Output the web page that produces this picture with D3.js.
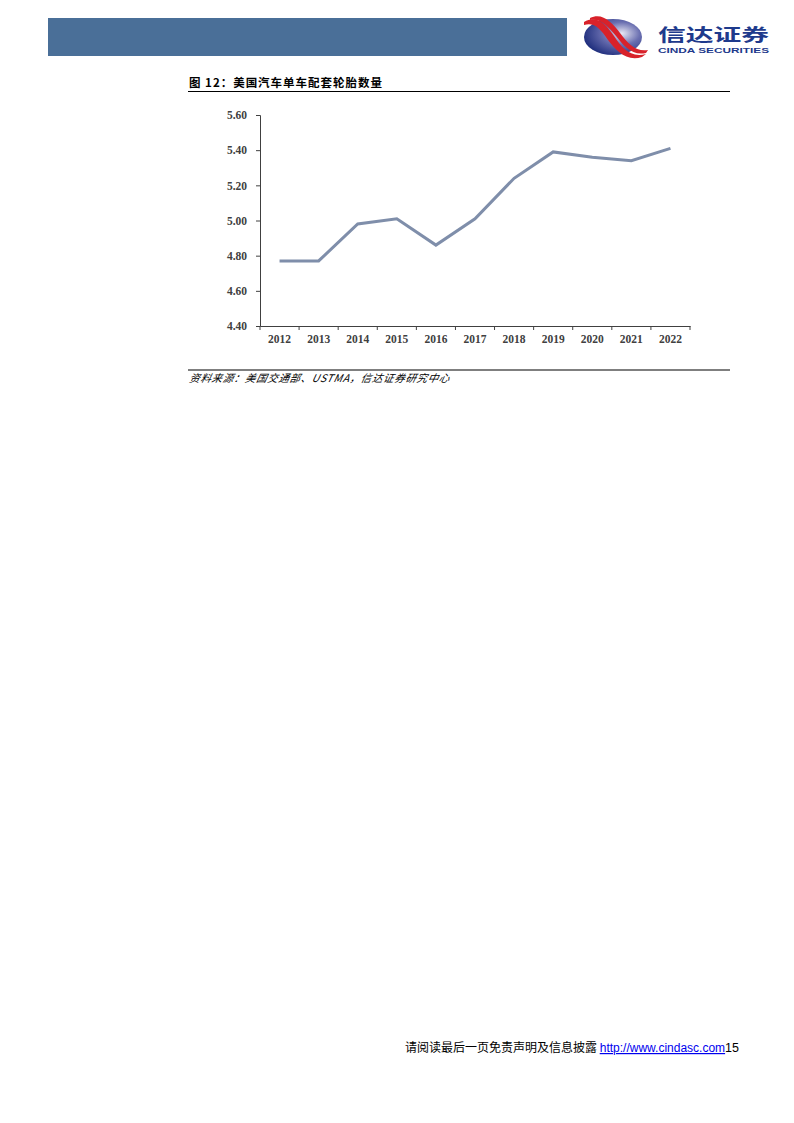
<!DOCTYPE html>
<html><head><meta charset="utf-8">
<script src="https://cdn.jsdelivr.net/npm/d3@7/dist/d3.min.js"></script>
<style>body{margin:0;background:#fff}svg{display:block}</style>
</head><body>
<svg id="page" width="794" height="1123"></svg>
<script>
const years = ["2012","2013","2014","2015","2016","2017","2018","2019","2020","2021","2022"];
const tiresPerVehicle = [4.77,4.77,4.98,5.01,4.86,5.01,5.24,5.39,5.36,5.34,5.41];
const yTicks = [4.40,4.60,4.80,5.00,5.20,5.40,5.60];
const titleText = "图 12：美国汽车单车配套轮胎数量";
const sourceText = "资料来源：美国交通部、USTMA，信达证券研究中心";

const svg = d3.select("#page");
// header bar
svg.append("rect").attr("x",48).attr("y",18).attr("width",519).attr("height",38).attr("fill","#4a6f98");
// logo
const defs = svg.append("defs");
const g1 = defs.append("radialGradient").attr("id","lg").attr("cx","65%").attr("cy","40%").attr("r","70%");
g1.append("stop").attr("offset","0%").attr("stop-color","#e8e8f4");
g1.append("stop").attr("offset","45%").attr("stop-color","#6a6fb0");
g1.append("stop").attr("offset","100%").attr("stop-color","#1a2a7a");
const logo = svg.append("g");
logo.append("ellipse").attr("cx",613).attr("cy",37).attr("rx",29).attr("ry",18).attr("fill","url(#lg)");
logo.append("path").attr("d","M584,22 C596,14 606,24 614,36 C622,48 630,58 646,54 L642,57 C626,62 616,50 608,40 C600,28 594,22 584,25 Z").attr("fill","#d8222a");
logo.append("path").attr("d","M590,18 C602,12 612,22 620,33 C628,44 636,52 648,50 L646,53 C632,56 624,46 616,36 C608,26 600,18 590,20 Z").attr("fill","#d8222a");
svg.append("text").attr("x",658).attr("y",41).attr("font-family","Noto Sans CJK SC").attr("font-weight","bold")
  .attr("font-size",17).attr("fill","#1e3a8c").attr("textLength",111).attr("lengthAdjust","spacingAndGlyphs").text("信达证券");
svg.append("text").attr("x",658).attr("y",53).attr("font-family","Liberation Sans, Arial").attr("font-weight","bold")
  .attr("font-size",8).attr("fill","#1e3a8c").attr("textLength",111).attr("lengthAdjust","spacingAndGlyphs").text("CINDA SECURITIES");

// title
svg.append("text").attr("x",189).attr("y",87).attr("font-family","Noto Sans CJK SC").attr("font-weight","bold")
  .attr("font-size",11.5).attr("fill","#000").attr("textLength",193).text(titleText);
svg.append("line").attr("x1",188).attr("x2",730).attr("y1",91.5).attr("y2",91.5).attr("stroke","#000").attr("stroke-width",1.2);

// chart
const x = d3.scaleBand().domain(years).range([260,690]);
const y = d3.scaleLinear().domain([4.40,5.60]).range([326,115]);
const font = "Liberation Serif, Times New Roman, serif";
const yAxis = svg.append("g").attr("transform","translate(260,0)")
  .call(d3.axisLeft(y).tickValues(yTicks).tickFormat(d3.format(".2f")).tickSizeOuter(0).tickSize(4));
yAxis.select(".domain").attr("stroke","#404040");
yAxis.selectAll(".tick line").attr("stroke","#404040");
yAxis.selectAll(".tick text").attr("font-family",font).attr("font-weight","bold").attr("font-size",11.5)
  .attr("fill","#404040").attr("x",-13);
const xAxis = svg.append("g").attr("transform","translate(0,326)")
  .call(d3.axisBottom(x).tickSize(0).tickSizeOuter(0));
xAxis.select(".domain").attr("stroke","#404040");
xAxis.selectAll(".tick text").attr("font-family",font).attr("font-weight","bold").attr("font-size",11.5)
  .attr("fill","#404040").attr("dy","1.2em");
// boundary ticks
const bounds = years.map(d=>x(d)).concat([x.range()[1]]);
svg.append("g").selectAll("line").data(bounds).join("line")
  .attr("x1",d=>d).attr("x2",d=>d).attr("y1",326).attr("y2",330).attr("stroke","#404040");

const line = d3.line().x((d,i)=>x(years[i])+x.bandwidth()/2).y(d=>y(d));
svg.append("path").datum(tiresPerVehicle).attr("d",line).attr("fill","none")
  .attr("stroke","#7f8eaa").attr("stroke-width",3);

// source
svg.append("line").attr("x1",188).attr("x2",730).attr("y1",370).attr("y2",370).attr("stroke","#000").attr("stroke-width",1.2);
svg.append("text").attr("x",189).attr("y",382).attr("font-family","Noto Sans CJK SC").attr("font-style","italic")
  .attr("font-size",10.5).attr("fill","#000").attr("textLength",260).text(sourceText)
  .attr("transform","skewX(-12) translate(81,0)");

// footer
const ft = svg.append("text").attr("x",405).attr("y",1052).attr("font-size",12).attr("fill","#000");
ft.append("tspan").attr("font-family","Noto Sans CJK SC").text("请阅读最后一页免责声明及信息披露 ");
ft.append("tspan").attr("font-family","Liberation Sans, Arial").attr("fill","#0000ee").attr("text-decoration","underline").text("http://www.cindasc.com");
ft.append("tspan").attr("font-family","Liberation Sans, Arial").attr("font-size",12.5).text("15");
</script>
</body></html>
